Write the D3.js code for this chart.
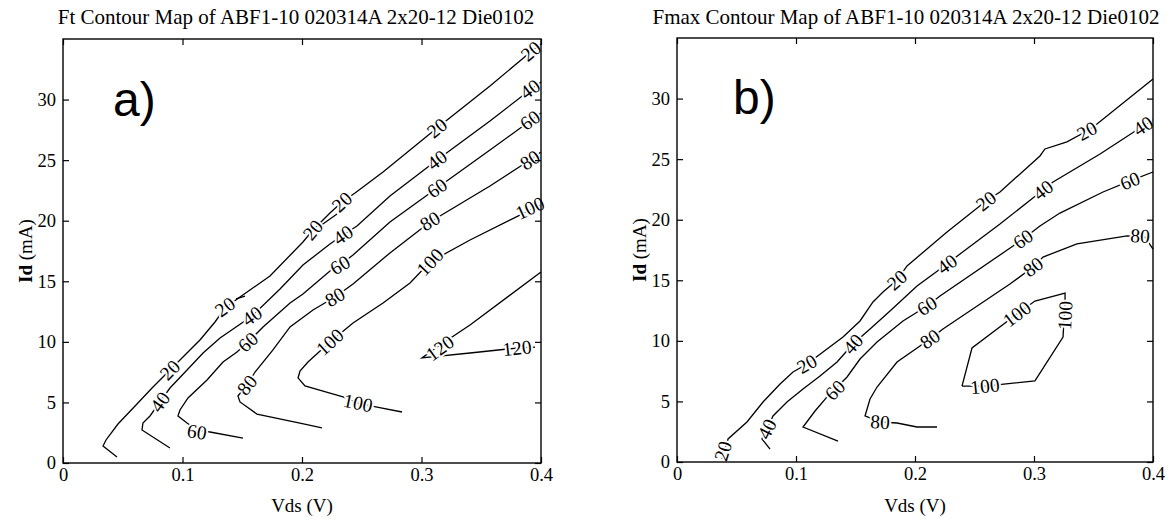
<!DOCTYPE html>
<html>
<head>
<meta charset="utf-8">
<script src="https://cdn.jsdelivr.net/npm/d3@7"></script>
<style>
  body { margin: 0; background: #fff; }
  svg { display: block; }
  text { font-family: "Liberation Serif", "Times New Roman", serif; fill: #000; }
</style>
</head>
<body>
<svg id="chart"></svg>
<script>
// Tick values
var vdsTicks = [0, 0.1, 0.2, 0.3, 0.4];
var idTicks = [0, 5, 10, 15, 20, 25, 30];

// Ft contour lines, points are [Vds (V), Id (mA)]
var ft20 = [[0.0452,0.50],[0.0335,1.40],[0.0360,1.90],[0.0460,3.22],[0.0619,4.87],[0.0745,6.19],[0.0895,7.68],[0.1004,8.75],[0.1146,10.15],[0.1272,11.64],[0.1356,12.80],[0.1481,13.70],[0.1732,15.44],[0.2008,18.24],[0.2092,19.23],[0.2234,20.64],[0.2335,21.55],[0.2444,22.29],[0.2678,24.02],[0.3130,27.65],[0.3573,31.12],[0.3933,34.09],[0.4,34.59]];
var ft20b = [[0.2151,19.56],[0.2293,20.55]];
var ft20c = [[0.1448,13.54],[0.1523,13.78]];
var ft40 = [[0.0895,1.24],[0.0661,2.72],[0.0669,3.30],[0.0728,3.88],[0.0812,5.04],[0.0895,6.19],[0.1038,7.68],[0.1172,9.08],[0.1314,10.32],[0.1582,12.13],[0.1816,14.36],[0.2008,16.34],[0.2234,18.08],[0.2343,18.82],[0.2460,19.56],[0.2736,22.04],[0.3130,25.01],[0.3573,28.23],[0.3908,30.79],[0.4,31.45]];
var ft60 = [[0.1506,2.06],[0.1230,2.56],[0.1121,2.72],[0.1038,3.30],[0.0962,3.88],[0.0979,4.38],[0.1046,5.37],[0.1205,6.85],[0.1339,8.34],[0.1456,9.16],[0.1548,9.99],[0.1674,11.23],[0.1900,13.21],[0.2008,13.95],[0.2234,15.85],[0.2318,16.34],[0.2427,17.17],[0.2736,19.89],[0.3130,22.70],[0.3573,25.84],[0.3908,28.23],[0.4,28.89]];
var ft80 = [[0.2167,2.89],[0.1983,3.30],[0.1623,4.04],[0.1481,5.04],[0.1464,5.53],[0.1506,6.03],[0.1540,6.44],[0.1607,7.51],[0.1757,9.33],[0.1900,11.23],[0.2092,12.63],[0.2276,13.70],[0.2427,14.78],[0.2736,17.34],[0.3071,19.89],[0.3573,22.87],[0.3908,25.01],[0.4,25.67]];
var ft100 = [[0.2837,4.21],[0.2628,4.62],[0.2469,4.95],[0.2343,5.45],[0.2176,5.94],[0.2025,6.36],[0.1967,7.02],[0.1983,7.59],[0.2050,8.34],[0.2234,9.99],[0.2427,11.56],[0.2678,13.21],[0.2904,14.86],[0.3071,16.59],[0.3406,18.41],[0.3908,20.88],[0.4,21.30]];
var ft120 = [[0.4,15.77],[0.3406,11.39],[0.3155,9.74],[0.3004,8.67],[0.3406,9.08],[0.3799,9.49],[0.3950,9.57]];

// Ft contour labels: [level, Vds, Id]
var ftLabels = [
  [20,0.0895,7.68],[20,0.1356,12.88],[20,0.2092,19.23],[20,0.2335,21.55],[20,0.3130,27.65],[20,0.3916,34.0],
  [40,0.0812,5.04],[40,0.1582,12.13],[40,0.2343,18.82],[40,0.3130,25.01],[40,0.3908,30.87],
  [60,0.1121,2.56],[60,0.1548,9.99],[60,0.2318,16.34],[60,0.3130,22.70],[60,0.3908,28.31],
  [80,0.1540,6.44],[80,0.2276,13.70],[80,0.3071,19.98],[80,0.3908,25.01],
  [100,0.2469,4.95],[100,0.2234,9.99],[100,0.3071,16.59],[100,0.3908,21.05],
  [120,0.3155,9.49],[120,0.3799,9.49]
];

// Fmax contour lines
var fm20 = [[0.0378,0.25],[0.0429,1.90],[0.0588,3.30],[0.0723,4.95],[0.0866,6.44],[0.0975,7.43],[0.1092,8.09],[0.1227,9.08],[0.1395,10.32],[0.1538,11.64],[0.1647,13.21],[0.1731,14.03],[0.1849,15.02],[0.1933,16.18],[0.2269,18.99],[0.2597,21.55],[0.2714,22.29],[0.3050,25.26],[0.3092,25.84],[0.3277,26.42],[0.3445,27.32],[0.3529,27.90],[0.4,31.62]];
var fm40 = [[0.0782,1.07],[0.0714,1.90],[0.0756,2.72],[0.0807,3.80],[0.0924,4.95],[0.1059,6.03],[0.1202,7.10],[0.1345,8.26],[0.1479,9.74],[0.1622,10.98],[0.1790,12.47],[0.2017,14.53],[0.2269,16.34],[0.2378,17.17],[0.2714,19.65],[0.3076,22.45],[0.3160,23.11],[0.3555,25.43],[0.3916,27.74],[0.4,28.23]];
var fm60 = [[0.1353,1.73],[0.1059,2.89],[0.1160,4.21],[0.1261,5.37],[0.1328,6.03],[0.1429,7.02],[0.1538,8.50],[0.1681,9.91],[0.1899,11.64],[0.2101,12.88],[0.2210,13.70],[0.2824,17.83],[0.2908,18.41],[0.3050,19.48],[0.3218,20.55],[0.3580,22.29],[0.3807,23.20],[0.4,23.94]];
var fm80 = [[0.2185,2.89],[0.2017,2.89],[0.1849,3.22],[0.1706,3.30],[0.1580,3.80],[0.1622,5.20],[0.1681,6.19],[0.1849,8.25],[0.2042,9.58],[0.2126,10.15],[0.2235,10.98],[0.2798,14.69],[0.2992,16.10],[0.3076,16.92],[0.3361,18.00],[0.3782,18.66],[0.3933,18.57],[0.4,17.58]];
var fm100 = [[0.2395,6.27],[0.2479,9.41],[0.2857,12.22],[0.3008,13.29],[0.3261,13.95],[0.3261,13.46],[0.3244,10.32],[0.3008,6.69],[0.2588,6.27],[0.2395,6.27]];

// Fmax contour labels: [level, Vds, Id]
var fmLabels = [
  [20,0.0387,0.91],[20,0.1092,8.09],[20,0.1849,15.02],[20,0.2597,21.55],[20,0.3445,27.32],
  [40,0.0756,2.72],[40,0.1479,9.74],[40,0.2269,16.34],[40,0.3076,22.45],[40,0.3916,27.74],
  [60,0.1328,5.94],[60,0.2101,12.88],[60,0.2908,18.41],[60,0.3807,23.20],
  [80,0.1706,3.30],[80,0.2126,10.15],[80,0.2992,16.10],[80,0.3891,18.66],
  [100,0.2857,12.22],[100,0.3261,12.10],[100,0.2588,6.27]
];

var panels = [
  { title: "Ft Contour Map of ABF1-10 020314A 2x20-12 Die0102", tag: "a)",
    left: 63, right: 541, top: 39, bottom: 463, titleX: 296, tagX: 113, tagY: 116,
    lines: [ft20, ft20b, ft20c, ft40, ft60, ft80, ft100, ft120], labels: ftLabels },
  { title: "Fmax Contour Map of ABF1-10 020314A 2x20-12 Die0102", tag: "b)",
    left: 677, right: 1153, top: 38, bottom: 462, titleX: 906, tagX: 733, tagY: 114,
    lines: [fm20, fm40, fm60, fm80, fm100], labels: fmLabels }
];

var svg = d3.select("#chart")
    .attr("width", 1174)
    .attr("height", 519);

svg.append("rect").attr("width", 1174).attr("height", 519).attr("fill", "#fff");

panels.forEach(function(p) {
  var x = d3.scaleLinear().domain([0, 0.4]).range([p.left, p.right]);
  var y = d3.scaleLinear().domain([0, 35]).range([p.bottom, p.top]);
  var g = svg.append("g");

  // contour lines
  var line = d3.line().x(function(d) { return x(d[0]); }).y(function(d) { return y(d[1]); });
  p.lines.forEach(function(pts) {
    g.append("path")
      .attr("d", line(pts))
      .attr("fill", "none")
      .attr("stroke", "#000")
      .attr("stroke-width", 1.3);
  });

  // label angle follows the nearest line segment
  function angleAt(px, py) {
    var best = Infinity, ang = 0;
    p.lines.forEach(function(pts) {
      for (var i = 0; i < pts.length - 1; i++) {
        var x1 = x(pts[i][0]), y1 = y(pts[i][1]), x2 = x(pts[i+1][0]), y2 = y(pts[i+1][1]);
        var dx = x2 - x1, dy = y2 - y1, len = dx*dx + dy*dy;
        if (len === 0) continue;
        var t = Math.max(0, Math.min(1, ((px-x1)*dx + (py-y1)*dy) / len));
        var ex = x1 + t*dx - px, ey = y1 + t*dy - py, dist = ex*ex + ey*ey;
        if (dist < best) { best = dist; ang = Math.atan2(dy, dx) * 180 / Math.PI; }
      }
    });
    if (ang > 90) ang -= 180;
    if (ang < -90) ang += 180;
    return ang;
  }

  g.selectAll(".clabel")
      .data(p.labels)
    .enter().append("text")
      .attr("class", "clabel")
      .attr("transform", function(d) {
        var px = x(d[1]), py = y(d[2]);
        return "translate(" + px + "," + py + ") rotate(" + angleAt(px, py) + ")";
      })
      .attr("text-anchor", "middle")
      .attr("dy", "0.34em")
      .attr("font-size", 19.5)
      .attr("stroke", "#fff")
      .attr("stroke-width", 4)
      .attr("stroke-linejoin", "round")
      .attr("paint-order", "stroke")
      .text(function(d) { return d[0]; });

  // axes with inward ticks
  g.append("g")
      .attr("transform", "translate(0," + p.bottom + ")")
      .call(d3.axisBottom(x).tickValues(vdsTicks).tickSize(-6).tickPadding(5).tickFormat(String))
      .call(styleAxis);
  g.append("g")
      .attr("transform", "translate(0," + p.top + ")")
      .call(d3.axisTop(x).tickValues(vdsTicks).tickSize(-6).tickFormat(""))
      .call(styleAxis);
  g.append("g")
      .attr("transform", "translate(" + p.left + ",0)")
      .call(d3.axisLeft(y).tickValues(idTicks).tickSize(-6).tickPadding(7))
      .call(styleAxis);
  g.append("g")
      .attr("transform", "translate(" + p.right + ",0)")
      .call(d3.axisRight(y).tickValues(idTicks).tickSize(-6).tickFormat(""))
      .call(styleAxis);

  // frame
  g.append("rect")
    .attr("x", p.left).attr("y", p.top)
    .attr("width", p.right - p.left).attr("height", p.bottom - p.top)
    .attr("fill", "none").attr("stroke", "#000").attr("stroke-width", 1.4);

  // titles
  g.append("text")
    .attr("x", p.titleX).attr("y", 24)
    .attr("text-anchor", "middle")
    .attr("font-size", 21)
    .text(p.title);

  g.append("text")
    .attr("x", (p.left + p.right) / 2).attr("y", 512)
    .attr("text-anchor", "middle")
    .attr("font-size", 19)
    .text("Vds  (V)");

  var yl = g.append("text")
    .attr("transform", "translate(" + (p.left - 31) + "," + ((p.top + p.bottom) / 2) + ") rotate(-90)")
    .attr("text-anchor", "middle")
    .attr("font-size", 19);
  yl.append("tspan").attr("font-weight", "bold").text("Id");
  yl.append("tspan").text(" (mA)");

  g.append("text")
    .attr("x", p.tagX).attr("y", p.tagY)
    .style("font-family", "'Liberation Sans', Arial, sans-serif")
    .attr("font-size", 48)
    .text(p.tag);
});

function styleAxis(sel) {
  sel.select(".domain").remove();
  sel.selectAll(".tick line").attr("stroke", "#000").attr("stroke-width", 1.2);
  sel.selectAll(".tick text")
    .attr("font-size", 18.5)
    .attr("fill", "#000")
    .style("font-family", "'Liberation Serif', 'Times New Roman', serif");
}
</script>
</body>
</html>
